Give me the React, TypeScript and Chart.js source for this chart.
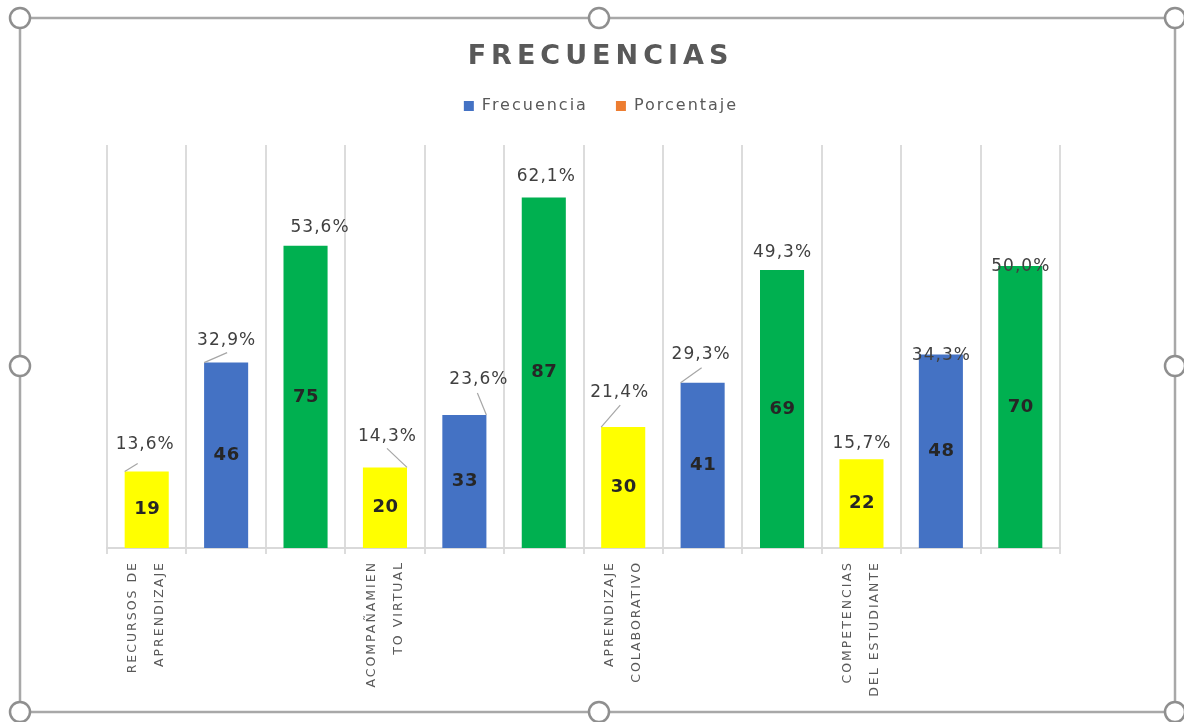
import React, { useEffect, useRef } from "react";
import { Chart, registerables } from "chart.js";

Chart.register(...registerables);

// ---------------- data ----------------
const TITLE = "FRECUENCIAS";
const SERIES_NAMES = ["Frecuencia", "Porcentaje"];
const CATEGORY_LABELS: (string | string[])[] = [
  ["RECURSOS DE", "APRENDIZAJE"], "", "",
  ["ACOMPAÑAMIEN", "TO VIRTUAL"], "", "",
  ["APRENDIZAJE", "COLABORATIVO"], "", "",
  ["COMPETENCIAS", "DEL ESTUDIANTE"], "", "",
];
const FRECUENCIA = [19, 46, 75, 20, 33, 87, 30, 41, 69, 22, 48, 70];
const PORCENTAJE = [13.6, 32.9, 53.6, 14.3, 23.6, 62.1, 21.4, 29.3, 49.3, 15.7, 34.3, 50.0];
const Y_MIN = 0;
const Y_MAX = 100;

// ---------------- styles ----------------
const FONT = "'DejaVu Sans', Verdana, sans-serif";
const BAR_COLORS = [
  "#FFFF00", "#4472C4", "#00B050",
  "#FFFF00", "#4472C4", "#00B050",
  "#FFFF00", "#4472C4", "#00B050",
  "#FFFF00", "#4472C4", "#00B050",
];
const LEGEND_COLORS = ["#4472C4", "#ED7D31"];
// percentage label offset from bar top centre [dx, dy]
const PCT_OFFSETS: [number, number][] = [
  [-2, -27], [0, -22], [14, -18], [2, -31], [14, -35], [2, -21],
  [-4, -35], [-2, -28], [0, -17], [0, -16], [0, 1], [0, 1],
];
// leader lines: bar corner side (-1 left / 1 right) and end relative to label centre
const LEADERS: ({ side: number; ex: number; ey: number } | null)[] = [
  { side: -1, ex: -7, ey: 19 },
  { side: -1, ex: 1, ey: 12 },
  null,
  { side: 1, ex: 0, ey: 12 },
  { side: 1, ex: -1, ey: 13 },
  null,
  { side: -1, ex: 1, ey: 13 },
  { side: -1, ex: 1, ey: 13 },
  null,
  null,
  null,
  null,
];

const fmtPct = (v: number) => v.toFixed(1).replace(".", ",") + "%";

const spacingPlugin = {
  id: "spacing",
  beforeInit(chart: any) { chart.ctx.letterSpacing = "2px"; },
  beforeUpdate(chart: any) { chart.ctx.letterSpacing = "2px"; },
  beforeLayout(chart: any) { chart.ctx.letterSpacing = "2px"; },
  beforeDraw(chart: any) { chart.ctx.letterSpacing = "2px"; },
};

const titlePlugin = {
  id: "customTitle",
  afterDraw(chart: any) {
    const ctx = chart.ctx;
    ctx.save();
    ctx.letterSpacing = "5px";
    ctx.font = `bold 27px ${FONT}`;
    ctx.fillStyle = "#595959";
    ctx.textAlign = "center";
    ctx.textBaseline = "middle";
    ctx.fillText(TITLE, 598 + 2.5, 57);
    ctx.restore();
  },
};

const labelsPlugin = {
  id: "barLabels",
  afterDatasetsDraw(chart: any) {
    const ctx = chart.ctx;
    const meta = chart.getDatasetMeta(0);
    const pctValues = chart.data.datasets[1].data as number[];
    ctx.save();
    meta.data.forEach((bar: any, i: number) => {
      const { x, y, base, width } = bar.getProps(["x", "y", "base", "width"], true);
      // value inside bar
      ctx.letterSpacing = "0.5px";
      ctx.font = `bold 18px ${FONT}`;
      ctx.fillStyle = "#262626";
      ctx.textAlign = "center";
      ctx.textBaseline = "middle";
      ctx.fillText(String(chart.data.datasets[0].data[i]), x + 0.5, (y + base) / 2);
      // percentage label
      const [dx, dy] = PCT_OFFSETS[i];
      const cx = x + dx;
      const cy = y + dy;
      const ld = LEADERS[i];
      if (ld) {
        ctx.beginPath();
        ctx.strokeStyle = "#a6a6a6";
        ctx.lineWidth = 1.2;
        ctx.moveTo(x + (ld.side * width) / 2, y);
        ctx.lineTo(cx + ld.ex, cy + ld.ey);
        ctx.stroke();
      }
      ctx.letterSpacing = "1px";
      ctx.font = `17px ${FONT}`;
      ctx.fillStyle = "#404040";
      ctx.fillText(fmtPct(pctValues[i]), cx + 0.5, cy);
    });
    ctx.restore();
  },
};

export default function App() {
  const canvasRef = useRef<HTMLCanvasElement | null>(null);

  useEffect(() => {
    const canvas = canvasRef.current;
    if (!canvas) return;
    Chart.defaults.font.family = FONT;
    const chart = new Chart(canvas, {
      type: "bar",
      data: {
        labels: CATEGORY_LABELS as any,
        datasets: [
          {
            type: "bar",
            label: SERIES_NAMES[0],
            data: FRECUENCIA,
            backgroundColor: BAR_COLORS,
            borderWidth: 0,
            categoryPercentage: 1,
            barPercentage: 0.555,
            xAxisID: "x",
            yAxisID: "y",
          } as any,
          {
            type: "line",
            label: SERIES_NAMES[1],
            data: PORCENTAJE,
            backgroundColor: LEGEND_COLORS[1],
            borderColor: LEGEND_COLORS[1],
            showLine: false,
            pointRadius: 0,
            pointHoverRadius: 0,
            xAxisID: "x",
            yAxisID: "yPct",
          } as any,
        ],
      },
      options: {
        responsive: false,
        animation: false,
        events: [],
        layout: { padding: { top: 70, left: 18, right: 0, bottom: 0 } },
        plugins: {
          title: { display: false },
          tooltip: { enabled: false },
          legend: {
            display: true,
            position: "top",
            labels: {
              color: "#595959",
              font: { family: FONT, size: 16 },
              boxWidth: 10,
              boxHeight: 10,
              padding: 28,
              generateLabels: (ch: any) =>
                ch.data.datasets.map((ds: any, i: number) => ({
                  text: ds.label,
                  fillStyle: LEGEND_COLORS[i],
                  strokeStyle: LEGEND_COLORS[i],
                  lineWidth: 0,
                  hidden: false,
                  datasetIndex: i,
                  fontColor: "#595959",
                })),
            },
          },
        },
        scales: {
          x: {
            type: "category",
            position: "bottom",
            offset: true,
            grid: { display: true, offset: true, color: "#dcdcdc", lineWidth: 2, drawTicks: true, tickLength: 6 },
            border: { display: true, color: "#d9d9d9", width: 2 },
            ticks: {
              autoSkip: false,
              maxRotation: 90,
              minRotation: 90,
              padding: 7,
              labelOffset: -13.5,
              color: "#595959",
              font: { family: FONT, size: 12.5, lineHeight: 2.16 },
            },
            afterFit: (s: any) => { s.height = 174; },
          },
          x2: {
            type: "category",
            position: "top",
            display: true,
            grid: { display: false },
            border: { display: false },
            ticks: { display: false },
            afterFit: (s: any) => { s.height = 21; },
          },
          y: {
            position: "left",
            min: Y_MIN,
            max: Y_MAX,
            display: true,
            grid: { display: false },
            border: { display: false },
            ticks: { display: false },
            afterFit: (s: any) => { s.width = 89; },
          },
          yPct: {
            position: "right",
            min: Y_MIN,
            max: Y_MAX,
            display: true,
            grid: { display: false },
            border: { display: false },
            ticks: { display: false },
            afterFit: (s: any) => { s.width = 124; },
          },
        },
      } as any,
      plugins: [spacingPlugin, titlePlugin, labelsPlugin],
    });
    return () => chart.destroy();
  }, []);

  const handles = [
    [20, 18], [599, 18], [1175, 18],
    [20, 366], [1175, 366],
    [20, 712], [599, 712], [1175, 712],
  ];

  return (
    <div style={{ position: "absolute", left: 0, top: 0, width: 1184, height: 722, background: "#fff" }}>
      <canvas ref={canvasRef} width={1184} height={722} style={{ display: "block", position: "absolute", left: 0, top: 0 }} />
      <svg width={1184} height={722} style={{ position: "absolute", left: 0, top: 0, pointerEvents: "none" }}>
        <rect x={20} y={18} width={1155} height={694} fill="none" stroke="#a8a8a8" strokeWidth={2.5} />
        {handles.map(([cx, cy], i) => (
          <circle key={i} cx={cx} cy={cy} r={10} fill="#fff" stroke="#8f8f8f" strokeWidth={2.5} />
        ))}
      </svg>
    </div>
  );
}
